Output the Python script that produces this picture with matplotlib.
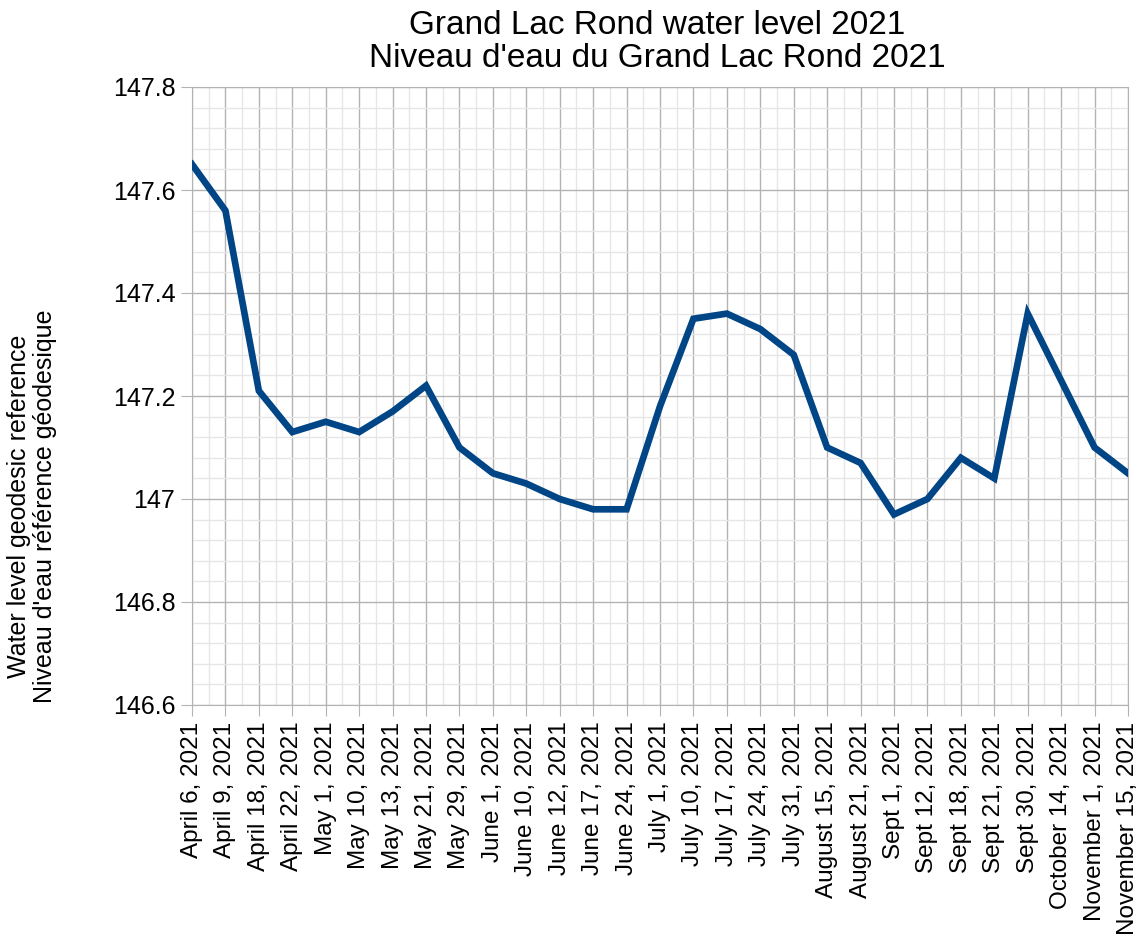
import numpy as np
import matplotlib.pyplot as plt
from matplotlib.ticker import MultipleLocator, FixedLocator

plt.rcParams['font.family'] = ['Liberation Sans', 'DejaVu Sans']

dates = ['April 6, 2021', 'April 9, 2021', 'April 18, 2021', 'April 22, 2021',
         'May 1, 2021', 'May 10, 2021', 'May 13, 2021', 'May 21, 2021',
         'May 29, 2021', 'June 1, 2021', 'June 10, 2021', 'June 12, 2021',
         'June 17, 2021', 'June 24, 2021', 'July 1, 2021', 'July 10, 2021',
         'July 17, 2021', 'July 24, 2021', 'July 31, 2021', 'August 15, 2021',
         'August 21, 2021', 'Sept 1, 2021', 'Sept 12, 2021', 'Sept 18, 2021',
         'Sept 21, 2021', 'Sept 30, 2021', 'October 14, 2021', 'November 1, 2021',
         'November 15, 2021']
level = [147.65, 147.56, 147.21, 147.13, 147.15, 147.13, 147.17, 147.22,
         147.10, 147.05, 147.03, 147.00, 146.98, 146.98, 147.18, 147.35,
         147.36, 147.33, 147.28, 147.10, 147.07, 146.97, 147.00, 147.08,
         147.04, 147.36, 147.23, 147.10, 147.05]

fig = plt.figure(figsize=(11.43, 9.51), dpi=100)
ax = fig.add_axes([192/1143, 1 - 705/951, (1128-192)/1143, (705-87)/951])

x = np.arange(len(dates))
ax.plot(x, level, color='#004586', lw=4.8, solid_joinstyle='miter', zorder=3)

ax.set_xlim(0, len(dates) - 1)
ax.set_ylim(146.6, 147.8)
ax.set_xticks(x)
ax.set_xticklabels(dates, rotation=90, fontsize=17.5)
ax.xaxis.set_minor_locator(FixedLocator(x[:-1] + 0.5))
ax.yaxis.set_minor_locator(MultipleLocator(0.04))
ax.set_yticks([146.6, 146.8, 147.0, 147.2, 147.4, 147.6, 147.8])
ax.set_yticklabels(['146.6', '146.8', '147', '147.2', '147.4', '147.6', '147.8'], fontsize=18)

ax.grid(which='major', color='#b3b3b3', lw=1)
ax.grid(which='minor', color='#e6e6e6', lw=1)
ax.set_axisbelow(True)
ax.tick_params(which='major', length=8, color='#b3b3b3', pad=4)
ax.tick_params(which='minor', length=0)
for s in ax.spines.values():
    s.set_color('#b3b3b3')

fig.text(657/1143, 1 - 42/951, "Grand Lac Rond water level 2021\nNiveau d'eau du Grand Lac Rond 2021",
         ha='center', va='center', fontsize=24, linespacing=1.1)
fig.text(32/1143, 1 - 506/951, "Water level geodesic reference\nNiveau d'eau référence géodesique",
         ha='center', va='center', rotation=90, fontsize=18, linespacing=1.15)

fig.savefig('out.png', dpi=100)
